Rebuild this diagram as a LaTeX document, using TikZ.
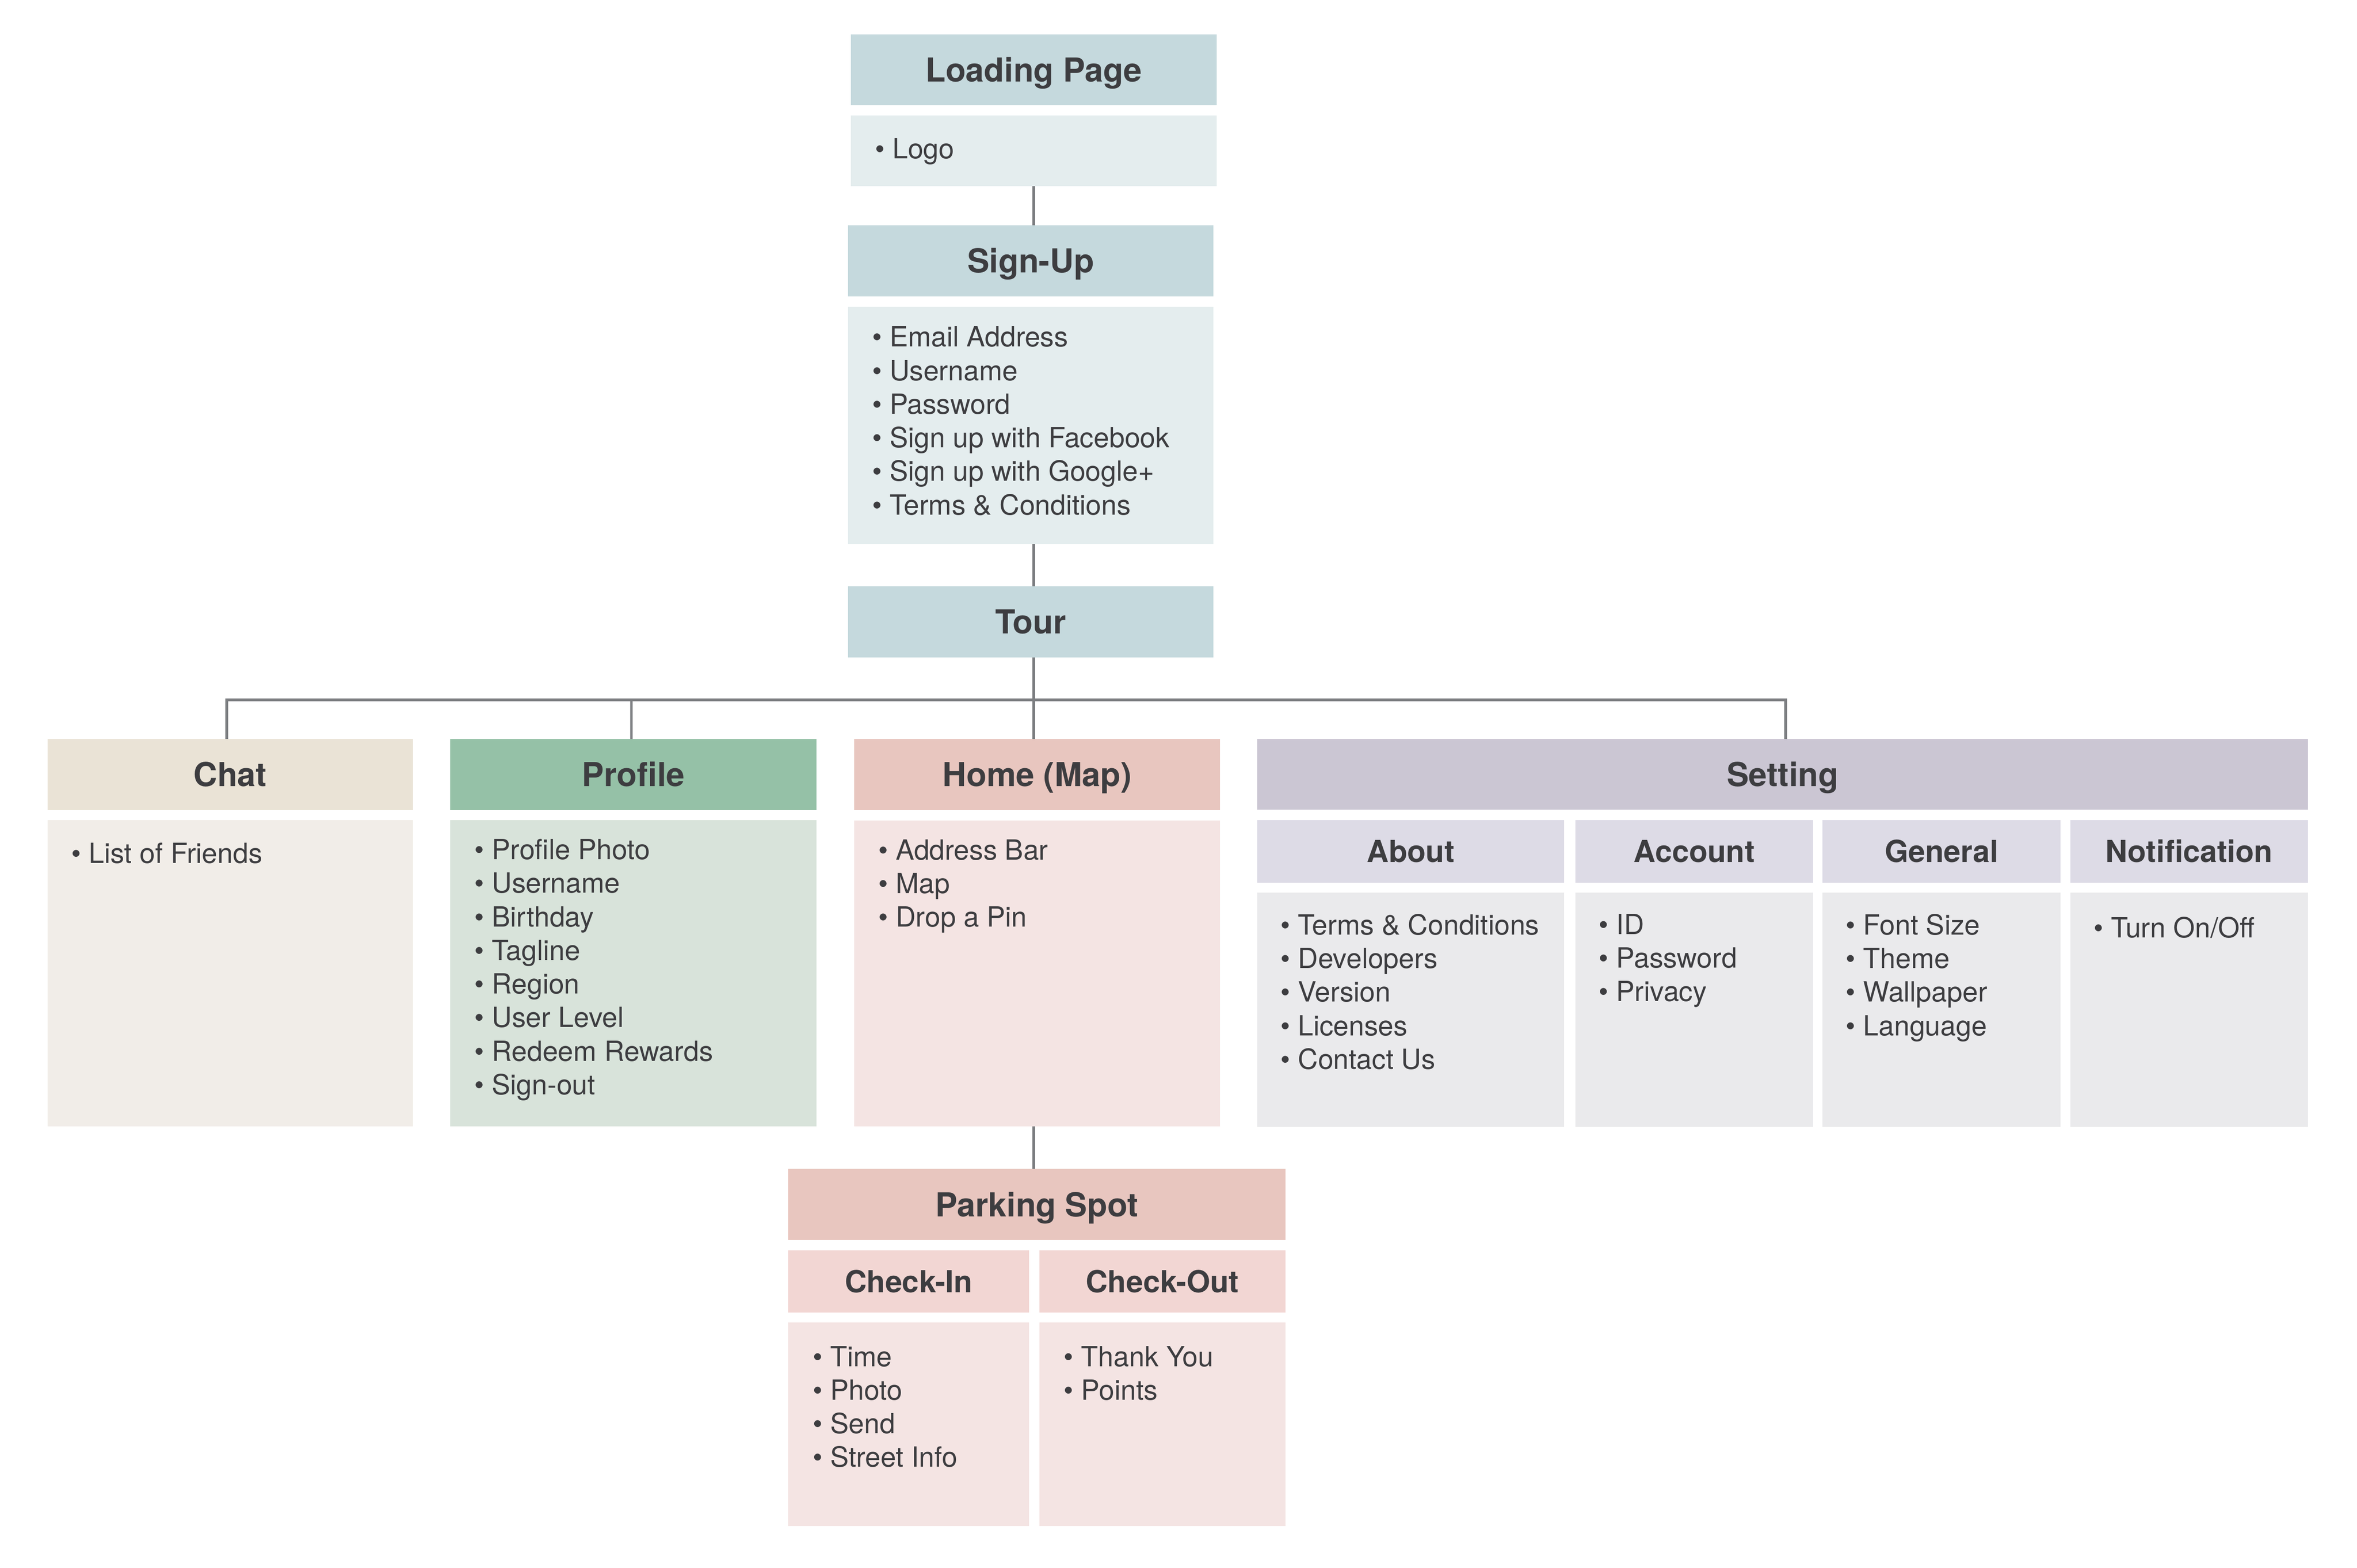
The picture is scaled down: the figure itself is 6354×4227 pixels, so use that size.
\documentclass[tikz,border=0pt]{standalone}
\usepackage{fontspec}
\setmainfont{TeX Gyre Heros}
\usetikzlibrary{fit}
\definecolor{txtc}{HTML}{3D3D40}
\definecolor{linec}{HTML}{7C7E81}
\definecolor{blueH}{HTML}{C5D9DD}
\definecolor{blueB}{HTML}{E4EDEE}
\definecolor{chatH}{HTML}{EAE3D6}
\definecolor{chatB}{HTML}{F1EDE8}
\definecolor{profH}{HTML}{95C1A7}
\definecolor{profB}{HTML}{D8E3DA}
\definecolor{homeH}{HTML}{E8C6BF}
\definecolor{homeB}{HTML}{F4E4E3}
\definecolor{parkS}{HTML}{F2D6D3}
\definecolor{setH}{HTML}{CBC6D3}
\definecolor{setS}{HTML}{DDDBE6}
\definecolor{setB}{HTML}{EAEAEC}
\begin{document}
\begin{tikzpicture}[x=0.01cm,y=-0.01cm,
  bodybox/.style={inner sep=0pt, outer sep=0pt, draw=none},
  hdr/.style={inner sep=0pt, outer sep=0pt, anchor=base, yshift=-9.1pt, text=txtc,
    font=\fontsize{25.3}{30}\selectfont\bfseries},
  subhdr/.style={inner sep=0pt, outer sep=0pt, anchor=base, yshift=-8.4pt, text=txtc,
    font=\fontsize{23.3}{28}\selectfont\bfseries},
  itm/.style={inner sep=0pt, outer sep=0pt, anchor=north west, align=left, text=txtc,
    font=\fontsize{21.3}{25.75}\selectfont, execute at begin node=\strut, yshift=16.9pt},
  conn/.style={draw=linec, line width=2pt, line join=miter}]

\useasboundingbox[fill=white] (0,0) rectangle (6354,4227);

% Loading Page
\node[bodybox, fill=blueH, fit={(2294,93) (3280,284)}] (loadH) {};
\node[hdr] (loadHt) at (loadH.center) {Loading Page};
\node[bodybox, fill=blueB, fit={(2294,311) (3280,502)}] (loadB) {};
\node[itm] (loadT) at (2359,424) {\textbullet\ Logo};

% Sign-Up
\node[bodybox, fill=blueH, fit={(2286,608) (3271,799)}] (signH) {};
\node[hdr] (signHt) at (signH.center) {Sign-Up};
\node[bodybox, fill=blueB, fit={(2286,827) (3271,1467)}] (signB) {};
\node[itm] (signT) at (2351,940) {\textbullet\ Email Address\\\textbullet\ Username\\\textbullet\ Password\\\textbullet\ Sign up with Facebook\\\textbullet\ Sign up with Google+\\\textbullet\ Terms \& Conditions};

% Tour
\node[bodybox, fill=blueH, fit={(2286,1581) (3271,1773)}] (tourH) {};
\node[hdr] (tourHt) at (tourH.center) {Tour};

% Chat
\node[bodybox, fill=chatH, fit={(128,1993) (1113,2184)}] (chatH) {};
\node[hdr] (chatHt) at (chatH.center) {Chat};
\node[bodybox, fill=chatB, fit={(128,2211) (1113,3037)}] (chatB) {};
\node[itm] (chatT) at (193,2323) {\textbullet\ List of Friends};

% Profile
\node[bodybox, fill=profH, fit={(1214,1993) (2201,2184)}] (profH) {};
\node[hdr] (profHt) at (profH.center) {Profile};
\node[bodybox, fill=profB, fit={(1214,2211) (2201,3037)}] (profB) {};
\node[itm] (profT) at (1279,2322) {\textbullet\ Profile Photo\\\textbullet\ Username\\\textbullet\ Birthday\\\textbullet\ Tagline\\\textbullet\ Region\\\textbullet\ User Level\\\textbullet\ Redeem Rewards\\\textbullet\ Sign-out};

% Home (Map)
\node[bodybox, fill=homeH, fit={(2303,1993) (3289,2184)}] (homeH) {};
\node[hdr] (homeHt) at (homeH.center) {Home (Map)};
\node[bodybox, fill=homeB, fit={(2303,2212) (3289,3037)}] (homeB) {};
\node[itm] (homeT) at (2368,2323) {\textbullet\ Address Bar\\\textbullet\ Map\\\textbullet\ Drop a Pin};

% Setting
\node[bodybox, fill=setH, fit={(3389,1993) (6222,2183)}] (setH) {};
\node[hdr] (setHt) at (setH.center) {Setting};
\node[bodybox, fill=setS, fit={(3389,2211) (4217,2380)}] (aboutH) {};
\node[bodybox, fill=setS, fit={(4247,2211) (4888,2380)}] (accH) {};
\node[bodybox, fill=setS, fit={(4913,2211) (5555,2380)}] (genH) {};
\node[bodybox, fill=setS, fit={(5581,2211) (6222,2380)}] (notH) {};
\node[subhdr] (aboutHt) at (aboutH.center) {About};
\node[subhdr] (accHt) at (accH.center) {Account};
\node[subhdr] (genHt) at (genH.center) {General};
\node[subhdr] (notHt) at (notH.center) {Notification};
\node[bodybox, fill=setB, fit={(3389,2407) (4217,3038)}] (aboutB) {};
\node[bodybox, fill=setB, fit={(4247,2407) (4888,3038)}] (accB) {};
\node[bodybox, fill=setB, fit={(4913,2407) (5555,3038)}] (genB) {};
\node[bodybox, fill=setB, fit={(5581,2407) (6222,3038)}] (notB) {};
\node[itm] (aboutT) at (3452,2524) {\textbullet\ Terms \& Conditions\\\textbullet\ Developers\\\textbullet\ Version\\\textbullet\ Licenses\\\textbullet\ Contact Us};
\node[itm] (accT) at (4310,2524) {\textbullet\ ID\\\textbullet\ Password\\\textbullet\ Privacy};
\node[itm] (genT) at (4976,2524) {\textbullet\ Font Size\\\textbullet\ Theme\\\textbullet\ Wallpaper\\\textbullet\ Language};
\node[itm] (notT) at (5644,2524) {\textbullet\ Turn On/Off};

% Parking Spot
\node[bodybox, fill=homeH, fit={(2125,3152) (3465,3344)}] (parkH) {};
\node[hdr] (parkHt) at (parkH.center) {Parking Spot};
\node[bodybox, fill=parkS, fit={(2125,3371) (2774,3539)}] (cinH) {};
\node[bodybox, fill=parkS, fit={(2802,3371) (3465,3539)}] (coutH) {};
\node[subhdr] (cinHt) at (cinH.center) {Check-In};
\node[subhdr] (coutHt) at (coutH.center) {Check-Out};
\node[bodybox, fill=homeB, fit={(2125,3566) (2774,4115)}] (cinB) {};
\node[bodybox, fill=homeB, fit={(2802,3566) (3465,4115)}] (coutB) {};
\node[itm] (cinT) at (2191,3689) {\textbullet\ Time\\\textbullet\ Photo\\\textbullet\ Send\\\textbullet\ Street Info};
\node[itm] (coutT) at (2868,3689) {\textbullet\ Thank You\\\textbullet\ Points};

% connectors
\coordinate (bus) at (2787,1887);
\draw[conn] (loadB.south) -- (loadB.south |- signH.north);
\draw[conn] (signB.south -| loadB.south) -- (tourH.north -| loadB.south);
\draw[conn] (tourH.south -| loadB.south) -- (homeH.north -| loadB.south);
\draw[conn] ([xshift=-0.095cm]chatH.north) |- (bus) -| ([xshift=0.085cm]setH.north);
\draw[conn] ([xshift=-0.055cm]profH.north) -- ([xshift=-0.055cm]profH.north |- bus);
\draw[conn] (homeB.south -| loadB.south) -- (parkH.north -| loadB.south);
\end{tikzpicture}
\end{document}
